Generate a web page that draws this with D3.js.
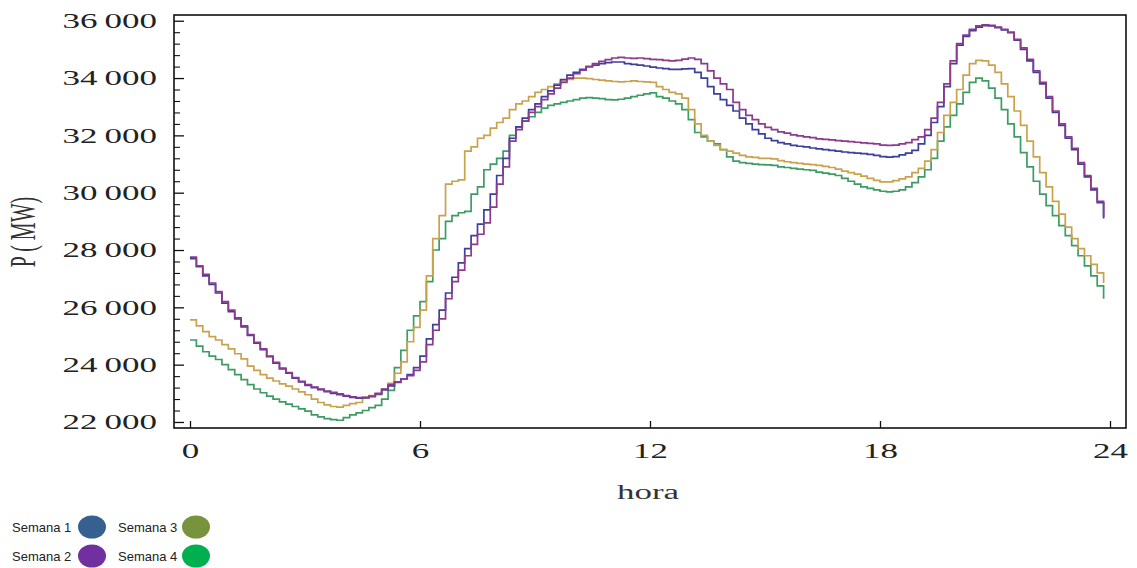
<!DOCTYPE html>
<html>
<head>
<meta charset="utf-8">
<script src="https://cdn.jsdelivr.net/npm/d3@7"></script>
<style>
  html, body { margin: 0; padding: 0; background: #fff; }
  svg { display: block; }
</style>
</head>
<body>
<svg id="chart" width="1137" height="568"></svg>
<script>
// ---------------- DATA ----------------
// one value every 10 minutes (144 steps per day), MW
const stepMinutes = 10;
const seriesNames = ["Semana 1", "Semana 2", "Semana 3", "Semana 4"];

const semana1 = [
  27700, 27420, 27100, 26800, 26500, 26150,
  25850, 25600, 25320, 25020, 24750, 24520,
  24280, 24050, 23850, 23700, 23530, 23400,
  23280, 23200, 23130, 23060, 23000, 22950,
  22900, 22860, 22830, 22840, 22880, 22980,
  23120, 23260, 23380, 23500, 23650, 23900,
  24300, 24900, 25400, 25900, 26500, 27050,
  27550, 28050, 28500, 28900, 29400, 29950,
  30600, 31200, 31900, 32300, 32600, 32900,
  33100, 33350, 33550, 33750, 33950, 34100,
  34200, 34300, 34400, 34450, 34500, 34540,
  34560, 34560, 34500, 34480, 34450, 34420,
  34380, 34350, 34330, 34300, 34300, 34320,
  34330, 34200, 34000, 33700, 33450, 33250,
  33050, 32850, 32600, 32400, 32200, 32050,
  31900, 31820, 31750, 31700, 31650, 31620,
  31600, 31560, 31530, 31500, 31480, 31450,
  31420, 31400, 31380, 31360, 31340, 31300,
  31260, 31240, 31260, 31320, 31380, 31480,
  31700, 32000, 32450, 33000, 33700, 34500,
  35150, 35450, 35650, 35780, 35830, 35820,
  35760, 35680, 35580, 35320, 35000, 34600,
  34200, 33800, 33300, 32800, 32350, 31900,
  31500, 31000, 30550, 30100, 29650, 29100
];

const semana2 = [
  27750, 27450, 27150, 26850, 26550, 26200,
  25900, 25630, 25350, 25050, 24780, 24550,
  24300, 24080, 23880, 23720, 23550, 23420,
  23300, 23220, 23150, 23080, 23030, 22980,
  22920, 22880, 22850, 22860, 22900, 23000,
  23150, 23300, 23400, 23500, 23620, 23800,
  24100, 24700, 25200, 25600, 26300, 26900,
  27300, 27800, 28200, 28550, 28950, 29500,
  30300, 30900, 31800, 32200, 32500, 32800,
  33000, 33250, 33450, 33650, 33850, 34000,
  34150, 34280, 34400, 34500, 34580, 34640,
  34700, 34720, 34700, 34690, 34700, 34680,
  34650, 34640, 34620, 34600, 34620, 34660,
  34700, 34650, 34500, 34250, 34000, 33800,
  33600, 33150, 32900, 32700, 32550, 32400,
  32280, 32200, 32120, 32080, 32020, 31980,
  31950, 31920, 31880, 31860, 31840, 31820,
  31800, 31780, 31760, 31740, 31720, 31700,
  31660, 31650, 31660, 31700, 31750, 31850,
  31950, 32200, 32600, 33150, 33800, 34600,
  35200, 35500, 35700, 35820, 35860, 35840,
  35780, 35700, 35600, 35350, 35050, 34650,
  34250, 33850, 33350, 32850, 32400, 31950,
  31550, 31050, 30600, 30150, 29700, 29150
];

const semana3 = [
  25560, 25350, 25150, 24980, 24860, 24700,
  24550, 24380, 24200, 23950, 23800, 23650,
  23530, 23430, 23330, 23250, 23150, 23050,
  22950, 22800, 22680, 22600, 22540, 22520,
  22580, 22640, 22680, 22860, 22920, 22950,
  23150, 23350, 23700, 24100, 24800, 25300,
  25900, 27100, 28400, 29200, 30300, 30400,
  30450, 31450, 31600, 31900, 32000, 32250,
  32450, 32600, 32900, 33100, 33200, 33350,
  33500, 33600, 33700, 33800, 33900, 33950,
  34000, 34000, 33980, 33950, 33930, 33900,
  33880, 33870, 33880, 33900, 33880, 33870,
  33850, 33700, 33600, 33500, 33450, 33300,
  32900, 32400, 32000, 31800, 31650, 31500,
  31450, 31380, 31300, 31250, 31230, 31200,
  31200, 31180, 31120, 31080, 31050, 31020,
  31000, 30980, 30950, 30920, 30880, 30820,
  30750, 30700, 30650, 30580, 30500, 30430,
  30380, 30380, 30420, 30480, 30550, 30700,
  30850, 31100, 31500, 32100, 32700, 33150,
  33600, 34100, 34500, 34620, 34600, 34450,
  34200, 33800, 33350, 32850, 32350, 31800,
  31250, 30700, 30200, 29700, 29250, 28800,
  28400, 28050, 27800, 27500, 27200, 26850
];

const semana4 = [
  24860, 24650, 24450, 24300, 24180, 24000,
  23830, 23650, 23480, 23300, 23150, 23020,
  22900, 22800, 22700, 22620, 22540, 22460,
  22380, 22250, 22180, 22120, 22080, 22060,
  22150, 22250, 22320, 22400, 22500, 22580,
  22800, 23100, 23900, 24500, 25200, 25700,
  26200, 26900, 28000, 28400, 29000, 29200,
  29300, 29350, 29950, 30200, 30800, 31000,
  31200, 31450, 32000, 32300, 32500, 32650,
  32800, 32950, 33050, 33100, 33150, 33200,
  33250, 33300, 33320, 33300, 33280, 33250,
  33240, 33260, 33300, 33350, 33400, 33450,
  33480, 33350, 33300, 33200, 33100, 32900,
  32550, 32100, 31950, 31800, 31700, 31500,
  31250, 31100, 31050, 31020, 31000, 30980,
  30970, 30950, 30900, 30880, 30850, 30820,
  30800, 30780, 30720, 30680, 30650, 30600,
  30500, 30400, 30300, 30200, 30150, 30100,
  30050, 30030, 30050, 30100, 30200, 30350,
  30550, 30800, 31200, 31800, 32300, 32700,
  33100, 33500, 33850, 34000, 33900, 33650,
  33300, 32900, 32400, 31950, 31400, 30900,
  30400, 29950, 29550, 29200, 28850, 28500,
  28150, 27800, 27450, 27100, 26750, 26300
];

const xTickValues = [0, 6, 12, 18, 24];
const yTickValues = [22000, 24000, 26000, 28000, 30000, 32000, 34000, 36000];
const xLabel = "hora";
const yLabel = "P ( MW)";

// ---------------- STYLE ----------------
const lineColors = ["#3d3f9c", "#8c3a8c", "#c9a24c", "#3d9c63"];
const legendColors = ["#36608f", "#7030a0", "#77933c", "#00b050"];
const SX = 1.75; // the reference picture is horizontally stretched

const svg = d3.select("#chart");
const frame = { left: 174, right: 1126, top: 15, bottom: 428 };

const x = d3.scaleLinear().domain([0, 24]).range([190, 1110]);
const y = d3.scaleLinear().domain([21790, 36200]).range([frame.bottom, frame.top]);

const allSeries = [semana1, semana2, semana3, semana4];

// lines (drawn in order so purple is over blue, like the reference)
const line = d3.line()
  .x((d, i) => x(i * stepMinutes / 60))
  .y(d => y(d))
  .curve(d3.curveStepAfter);

const drawOrder = [3, 2, 0, 1];
const plot = svg.append("g");
drawOrder.forEach(k => {
  plot.append("path")
    .datum(allSeries[k])
    .attr("fill", "none")
    .attr("stroke", lineColors[k])
    .attr("stroke-width", 1.7)
    .attr("stroke-linejoin", "miter")
    .attr("d", line);
});

// y axis major ticks (inward)
const fmt = v => {
  const s = String(v);
  return s.slice(0, s.length - 3) + "\u2009" + s.slice(-3);
};
const yAxis = svg.append("g")
  .attr("transform", `translate(${frame.left},0)`)
  .call(d3.axisLeft(y).tickValues(yTickValues).tickSizeInner(-10).tickSizeOuter(0).tickFormat(fmt));
yAxis.select(".domain").remove();
yAxis.selectAll("line").attr("stroke", "#111").attr("stroke-width", 1.3);
yAxis.selectAll("text")
  .attr("x", 0).attr("dy", "0.34em")
  .attr("transform", `translate(-17,0) scale(${SX},1)`)
  .attr("text-anchor", "end")
  .attr("font-family", "'Liberation Serif', 'DejaVu Serif', serif")
  .attr("font-size", 20)
  .attr("fill", "#222");

// y minor ticks every 400
const yMinor = d3.range(22000, 36001, 400).filter(v => v % 2000 !== 0);
const yMinorAxis = svg.append("g")
  .attr("transform", `translate(${frame.left},0)`)
  .call(d3.axisLeft(y).tickValues(yMinor).tickSizeInner(-6).tickSizeOuter(0).tickFormat(""));
yMinorAxis.select(".domain").remove();
yMinorAxis.selectAll("line").attr("stroke", "#111").attr("stroke-width", 1.1);

// x axis (inward ticks)
const xAxis = svg.append("g")
  .attr("transform", `translate(0,${frame.bottom})`)
  .call(d3.axisBottom(x).tickValues(xTickValues).tickSizeInner(-7).tickSizeOuter(0).tickFormat(d3.format("d")));
xAxis.select(".domain").remove();
xAxis.selectAll("line").attr("stroke", "#111").attr("stroke-width", 1.3);
xAxis.selectAll("text")
  .attr("y", 0).attr("dy", 0)
  .attr("transform", `translate(0,30) scale(${SX},1)`)
  .attr("font-family", "'Liberation Serif', 'DejaVu Serif', serif")
  .attr("font-size", 20)
  .attr("fill", "#222");

// frame
svg.append("rect")
  .attr("x", frame.left).attr("y", frame.top)
  .attr("width", frame.right - frame.left).attr("height", frame.bottom - frame.top)
  .attr("fill", "none").attr("stroke", "#111").attr("stroke-width", 1.6);

// axis titles
svg.append("text")
  .attr("transform", `translate(648,499) scale(${SX},1)`)
  .attr("text-anchor", "middle")
  .attr("font-family", "'Liberation Serif', 'DejaVu Serif', serif")
  .attr("font-size", 20).attr("fill", "#333")
  .text(xLabel);

svg.append("text")
  .attr("transform", `translate(35,232) scale(${SX},1) rotate(-90)`)
  .attr("text-anchor", "middle")
  .attr("font-family", "'Liberation Serif', 'DejaVu Serif', serif")
  .attr("font-size", 20).attr("fill", "#333")
  .text(yLabel);

// legend
const legendPos = [
  { tx: 12, cx: 92, cy: 527 },
  { tx: 12, cx: 92, cy: 556 },
  { tx: 118, cx: 196, cy: 527 },
  { tx: 118, cx: 196, cy: 556 }
];
const legend = svg.append("g");
seriesNames.forEach((name, k) => {
  const p = legendPos[k];
  legend.append("text")
    .attr("x", p.tx).attr("y", p.cy + 5)
    .attr("font-family", "'Liberation Sans', Arial, sans-serif")
    .attr("font-size", 13).attr("fill", "#222")
    .text(name);
  legend.append("ellipse")
    .attr("cx", p.cx).attr("cy", p.cy)
    .attr("rx", 14).attr("ry", 11.5)
    .attr("fill", legendColors[k]);
});
</script>
</body>
</html>
